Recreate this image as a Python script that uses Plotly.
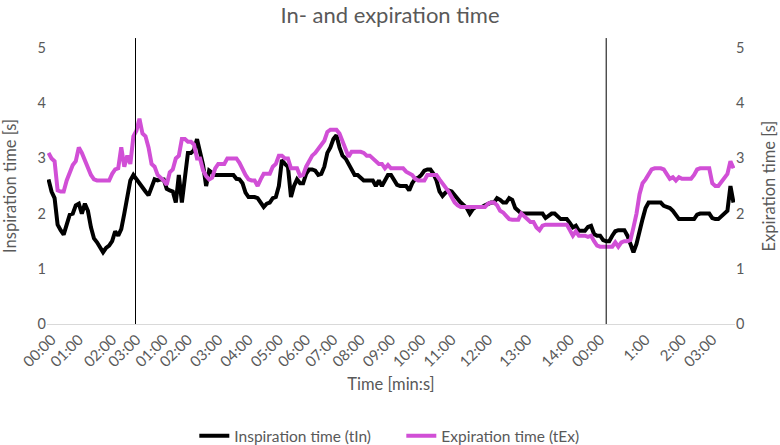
import plotly.graph_objects as go

# breathing times, one value per sample (s)
insp_time = [
    2.62, 2.4, 2.28, 1.8, 1.7, 1.62, 1.8, 1.98, 2.0, 2.15,
    2.18, 2.0, 2.18, 2.05, 1.75, 1.55, 1.48, 1.38, 1.3, 1.38,
    1.42, 1.5, 1.68, 1.6, 1.72, 2.0, 2.3, 2.6, 2.7, 2.62,
    2.55, 2.45, 2.4, 2.33, 2.5, 2.62, 2.6, 2.62, 2.62, 2.45,
    2.42, 2.4, 2.2, 2.7, 2.2, 2.7, 3.1, 3.1, 3.15, 3.35,
    3.09, 2.88, 2.5, 2.78, 2.74, 2.7, 2.7, 2.7, 2.7, 2.7,
    2.7, 2.7, 2.63, 2.62, 2.55, 2.38, 2.3, 2.3, 2.3, 2.28,
    2.2, 2.12, 2.18, 2.2, 2.28, 2.3, 2.5, 2.97, 2.9, 2.85,
    2.3, 2.5, 2.62, 2.55, 2.55, 2.72, 2.8, 2.8, 2.78, 2.7,
    2.72, 2.85, 3.1, 3.2, 3.35, 3.42, 3.2, 3.05, 3.0, 2.9,
    2.8, 2.7, 2.7, 2.64, 2.6, 2.6, 2.6, 2.6, 2.5, 2.6,
    2.5, 2.6, 2.7, 2.7, 2.62, 2.52, 2.5, 2.5, 2.5, 2.42,
    2.55, 2.63, 2.65, 2.7, 2.78, 2.8, 2.8, 2.72, 2.6, 2.4,
    2.32, 2.38, 2.42, 2.4, 2.33, 2.25, 2.2, 2.15, 2.1, 2.0,
    2.08, 2.12, 2.12, 2.12, 2.15, 2.18, 2.2, 2.2, 2.28, 2.25,
    2.2, 2.2, 2.28, 2.25, 2.1, 2.05, 2.0, 2.0, 2.0, 2.0,
    2.0, 2.0, 2.0, 2.0, 1.92, 1.95, 2.0, 2.0, 1.95, 1.9,
    1.9, 1.9, 1.83, 1.75, 1.78, 1.69, 1.69, 1.69, 1.76, 1.78,
    1.63, 1.6, 1.6, 1.52, 1.5, 1.5, 1.6, 1.68, 1.7, 1.7,
    1.7, 1.6, 1.42, 1.3, 1.45, 1.7, 1.9, 2.1, 2.2, 2.2,
    2.2, 2.2, 2.2, 2.14, 2.12, 2.1, 2.05, 1.97, 1.9, 1.9,
    1.9, 1.9, 1.9, 1.9, 1.98, 2.0, 2.0, 2.0, 2.0, 1.92,
    1.9, 1.9, 1.95, 2.0, 2.05, 2.5, 2.2,
]

exp_time = [
    3.1, 3.0, 2.95, 2.42, 2.4, 2.4, 2.6, 2.75, 2.88, 2.95,
    3.2, 3.1, 2.95, 2.8, 2.7, 2.62, 2.6, 2.6, 2.6, 2.6,
    2.6, 2.72, 2.8, 2.82, 3.2, 2.85, 3.05, 2.9, 3.4, 3.5,
    3.72, 3.45, 3.4, 3.2, 2.9, 2.85, 2.7, 2.65, 2.6, 2.52,
    2.75, 2.8, 3.0, 3.05, 3.35, 3.35, 3.3, 3.3, 3.25, 3.0,
    3.0, 2.78, 2.68, 2.62, 2.65, 2.82, 2.9, 2.9, 2.9, 3.0,
    3.0, 3.0, 3.0, 2.92, 2.8, 2.7, 2.62, 2.6, 2.6, 2.5,
    2.62, 2.72, 2.72, 2.72, 2.85, 2.9, 3.05, 3.05, 3.0, 3.0,
    2.82, 2.82, 2.82, 2.68, 2.7, 2.85, 2.95, 3.05, 3.1, 3.18,
    3.24, 3.32, 3.48, 3.52, 3.52, 3.52, 3.45, 3.3, 3.18, 3.03,
    3.12, 3.12, 3.12, 3.12, 3.1, 3.05, 3.05, 3.0, 2.97, 2.9,
    2.9, 2.82, 2.88, 2.82, 2.82, 2.82, 2.82, 2.82, 2.76, 2.72,
    2.7, 2.63, 2.6, 2.6, 2.6, 2.7, 2.7, 2.7, 2.7, 2.62,
    2.55, 2.48, 2.4, 2.3, 2.2, 2.15, 2.12, 2.12, 2.12, 2.12,
    2.12, 2.12, 2.12, 2.12, 2.12, 2.18, 2.2, 2.2, 2.15, 2.05,
    2.02, 1.96, 1.9, 1.89, 1.89, 1.89, 2.0, 1.95, 1.9, 1.85,
    1.85, 1.75, 1.7, 1.78, 1.8, 1.8, 1.8, 1.8, 1.8, 1.8,
    1.8, 1.8, 1.7, 1.6, 1.68, 1.6, 1.6, 1.6, 1.58, 1.6,
    1.5, 1.42, 1.4, 1.4, 1.4, 1.4, 1.4, 1.48, 1.4, 1.48,
    1.5, 1.5, 1.52, 1.75, 2.0, 2.35, 2.55, 2.62, 2.72, 2.8,
    2.82, 2.82, 2.82, 2.8, 2.72, 2.63, 2.66, 2.6, 2.66, 2.63,
    2.63, 2.63, 2.63, 2.7, 2.8, 2.82, 2.82, 2.82, 2.82, 2.55,
    2.5, 2.5, 2.58, 2.65, 2.72, 2.95, 2.82,
]

# category ticks (sample index) and their labels
tick_idx = [1, 10, 21, 29, 38, 46, 56, 66, 76, 85, 94, 103, 113, 123, 133,
            145, 158, 172, 182, 197, 209, 219]
tick_text = ["00:00", "01:00", "02:00", "03:00", "01:00", "02:00", "03:00",
             "04:00", "05:00", "06:00", "07:00", "08:00", "09:00", "10:00",
             "11:00", "12:00", "13:00", "14:00", "00:00", "1:00", "2:00", "03:00"]

# samples where a new phase starts
phase_breaks = [28.7, 184]

grey = "#595959"
font = "Lato, 'Open Sans', sans-serif"
x = list(range(len(insp_time)))

fig = go.Figure()
fig.add_trace(go.Scatter(x=x, y=insp_time, mode="lines", name="Inspiration time (tIn)",
                         line=dict(color="black", width=4)))
fig.add_trace(go.Scatter(x=x, y=exp_time, mode="lines", name="Expiration time (tEx)",
                         line=dict(color="#d14fd6", width=4), yaxis="y2"))

for b in phase_breaks:
    fig.add_shape(type="line", xref="x", yref="paper", x0=b, x1=b, y0=0, y1=1.036,
                  line=dict(color="black", width=1))

fig.update_layout(
    width=780, height=445,
    margin=dict(l=47, r=45, t=48, b=121),
    paper_bgcolor="white", plot_bgcolor="white",
    font=dict(family=font, color=grey, size=13),
    title=dict(text="In- and expiration time", x=0.5, xanchor="center",
               yref="container", y=0.966, yanchor="middle", font=dict(size=22, color=grey)),
    showlegend=True,
    legend=dict(orientation="h", x=0.515, xanchor="center",
                yref="container", y=0.02, yanchor="middle",
                entrywidth=162, font=dict(size=15.5, color=grey)),
    xaxis=dict(range=[-0.5, len(x) - 0.5], tickvals=tick_idx, ticktext=tick_text,
               tickangle=-45, showgrid=False, zeroline=False, showline=True,
               linecolor="#d9d9d9", ticks="", automargin=False,
               tickfont=dict(size=15, color=grey),
               title=dict(text="Time [min:s]", font=dict(size=16.5, color=grey), standoff=9)),
    yaxis=dict(range=[0, 5], dtick=1, showgrid=False, zeroline=False, automargin=False,
               tickfont=dict(size=14.5, color=grey),
               title=dict(text="Inspiration time [s]", font=dict(size=16.5, color=grey), standoff=19)),
    yaxis2=dict(range=[0, 5], dtick=1, overlaying="y", side="right", showgrid=False,
                zeroline=False, automargin=False, tickfont=dict(size=14.5, color=grey),
                title=dict(text="Expiration time [s]", font=dict(size=16.5, color=grey), standoff=20)),
)

# page body has a default margin; drop it so the figure sits at the window corner
fig.write_html("out.html", config={"displayModeBar": False},
               post_script="document.body.style.margin='0';")
